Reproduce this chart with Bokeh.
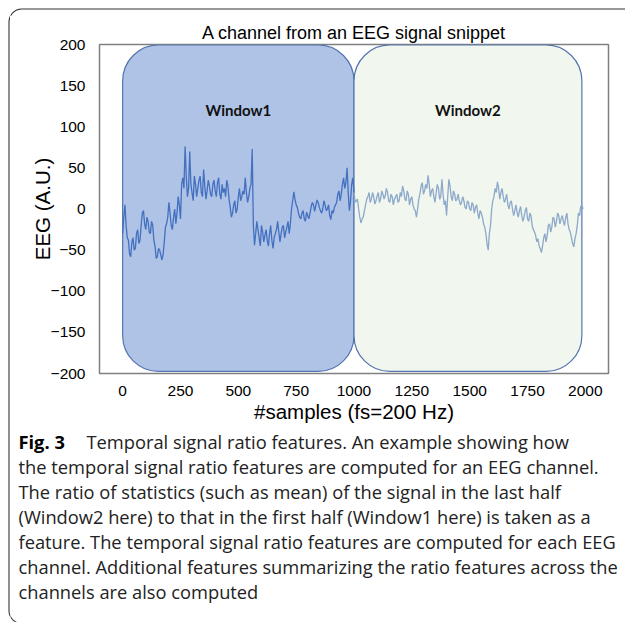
import numpy as np
from bokeh.plotting import figure
from bokeh.layouts import column, row
from bokeh.models import Range1d, FixedTicker
from bokeh.core.properties import value
from bokeh.embed import file_html
from bokeh.resources import INLINE

# ---- data ----
# values at every 10th sample (0..1990)
eeg_main = [
    -30, 5, -35, -55, -40, -50, -30, -42, -20, -2, -25,
    -15, -30, -20, -45, -58, -50, -62, -40, -18, 8,
    -20, -10, -18, 15, -12, 38, 76, 15, 70, 20,
    40, 15, 35, 20, 48, 12, 35, 18, 30, 22,
    32, 18, 30, 25, 35, 12, -10, 5, -5, 15,
    10, 22, 38, 8, 25, 73, -44, -15, -35, -20,
    -40, -25, -45, -20, -48, -30, -15, -40, -22, -35,
    -22, -30, 0, 21, 5, -5, -12, -2, -15, -8,
    -5, 8, -3, 11, 2, -5, 10, -2, 5, -13,
    -5, 5, 18, 10, 30, 25, 50, -2, 30, 20,
    10, 0, -17, -10, 5, 15, 8, 20, 6, 16,
    8, 22, 12, 25, 10, 18, 5, 15, 8, 20,
    28, 12, 22, 5, 15, 0, -10, 12, 28, 18,
    30, 41, 15, 25, 8, 30, 12, 36, 5, -8,
    36, 15, 22, 10, 18, 5, 15, 2, 10, 0,
    8, -5, 5, -12, -5, -18, -30, -50, -20, 10,
    25, 33, 12, 25, 8, 18, 0, 10, -8, 5,
    -10, 3, -15, -2, -12, -5, -20, -28, -40, -45,
    -53, -35, -40, -20, -28, -10, -22, -5, -18, -8,
    -20, -5, -25, -35, -46, -30, -5, 3, 0,
]
# values at the samples in between (5, 15, ..., 1985)
eeg_between = [
    -10, -20, -38, -58, -35, -48, -25, -38, -5, -18,
    -10, -28, -15, -38, -60, -48, -56, -55, -22, -10,
    -5, -25, 0, -5, 5, 30, 25, 40, 25, 30,
    10, 30, 25, 40, 15, 28, 22, 28, 15, 35,
    15, 38, 12, 20, 15, 28, 2, -5, 10, 0,
    25, 15, 18, 20, 15, 30, -20, -30, -25, -45,
    -28, -32, -38, -30, -38, -35, -25, -28, -30, -20,
    -28, -15, -18, 10, 12, 2, -10, -5, -12, -4,
    -12, 3, 5, 4, 8, -2, 0, 5, 0, -8,
    -2, 2, 8, 22, 18, 38, 32, 20, 10, 38,
    8, 12, -10, -12, -2, 12, 20, 12, 15, 10,
    20, 12, 18, 16, 20, 8, 15, 12, 18, 10,
    15, 22, 10, 18, 12, 5, -2, 0, 18, 32,
    22, 25, 30, 22, 15, 20, 25, 15, 18, 10,
    15, 28, 10, 18, 12, 10, 8, 10, 0, 8,
    -2, 5, 2, -5, -2, -10, -22, -42, -30, 0,
    15, 20, 25, 20, 15, 12, 5, 8, 0, -2,
    -4, -2, -8, -10, 2, -15, -8, -25, -32, -36,
    -48, -45, -30, -32, -18, -22, -12, -15, -8, -12,
    -15, -10, -18, -28, -42, -36, -20, -8, 5,
]
window_names = ["Window1", "Window2"]
window_start = [0, 1000]
window_end = [1000, 1985]
window_fill = ["#AEC3E6", "#F1F6EF"]
x_ticks = [0, 250, 500, 750, 1000, 1250, 1500, 1750, 2000]
y_ticks = [-200, -150, -100, -50, 0, 50, 100, 150, 200]
title_text = "A channel from an EEG signal snippet"
caption_bold = "Fig. 3"
caption_lines = [
    "Temporal signal ratio features. An example showing how",
    "the temporal signal ratio features are computed for an EEG channel.",
    "The ratio of statistics (such as mean) of the signal in the last half",
    "(Window2 here) to that in the first half (Window1 here) is taken as a",
    "feature. The temporal signal ratio features are computed for each EEG",
    "channel. Additional features summarizing the ratio features across the",
    "channels are also computed",
]

samples, eeg = [], []
for i, v in enumerate(eeg_main):
    samples.append(10 * i); eeg.append(v)
    if i < len(eeg_between):
        samples.append(10 * i + 5); eeg.append(eeg_between[i])

W, H = 625, 622
LS = 10                   # left strip width
HEAD = 16                 # top strip height (panel border only)
CAP_TOP = 430             # caption starts here (canvas px)
F_L, F_T, F_R, F_B = 99, 44, 608, 373   # chart frame in canvas px


def no_align(f):
    try:
        f.frame_align = False
    except Exception:
        pass


# ---------- chart ----------
p = figure(width=W - LS, height=CAP_TOP - HEAD, output_backend="svg",
           toolbar_location=None,
           x_range=Range1d(-100, 2100), y_range=Range1d(-200, 200),
           min_border_left=F_L - LS, min_border_right=W - F_R,
           min_border_top=F_T - HEAD, min_border_bottom=CAP_TOP - F_B)
no_align(p)
p.grid.visible = False
p.outline_line_color = "#808080"
p.outline_line_width = 1.5
p.background_fill_color = "white"
p.border_fill_color = "white"

p.quad(left=window_start, right=window_end, bottom=[-197.5, -197.5], top=[199.5, 199.5],
       fill_color=window_fill, line_color="#5575B0", line_width=1.2, border_radius=36)

split = samples.index(1000)
p.line(samples[:split + 1], eeg[:split + 1], line_color="#4470BF", line_width=1.3)
p.line(samples[split:], eeg[split:], line_color="#8DA9CA", line_width=1.3)

p.text(x=[(a + b) / 2 for a, b in zip(window_start, window_end)], y=[120, 120],
       text=window_names, text_font=value("Lato"), text_font_style="bold",
       text_font_size="15px", text_align="center", text_baseline="middle",
       text_color="#111111")

p.xaxis.ticker = FixedTicker(ticks=x_ticks)
p.yaxis.ticker = FixedTicker(ticks=y_ticks)
p.yaxis.major_label_overrides = {v: str(v).replace("-", "\u2212") for v in y_ticks}
for ax in (p.xaxis[0], p.yaxis[0]):
    ax.axis_line_color = None
    ax.major_tick_line_color = None
    ax.minor_tick_line_color = None
    ax.major_label_text_font = "Liberation Sans"
    ax.major_label_text_font_size = "15.5px"
    ax.major_label_text_color = "black"
    ax.axis_label_text_font = "Liberation Sans"
    ax.axis_label_text_font_size = "20.5px"
    ax.axis_label_text_font_style = "normal"
    ax.axis_label_text_color = "black"
p.xaxis.axis_label = "#samples (fs=200 Hz)"
p.yaxis.axis_label = "EEG (A.U.)"
p.yaxis.major_label_standoff = 8
p.xaxis.major_label_standoff = 6
p.yaxis.axis_label_standoff = -6
p.xaxis.axis_label_standoff = 1

p.title.text = title_text
p.title.align = "center"
p.title.text_font = "Liberation Sans"
p.title.text_font_size = "18px"
p.title.text_font_style = "normal"
p.title.text_color = "black"
p.title.standoff = 3


# ---------- decoration / caption panels (ranges in canvas pixels) ----------
def panel(x0, x1, y0, y1):
    f = figure(width=x1 - x0, height=y1 - y0, output_backend="svg",
               toolbar_location=None, title=None,
               x_range=Range1d(x0, x1), y_range=Range1d(y1, y0),
               x_axis_type=None, y_axis_type=None,
               min_border=0, min_border_left=0, min_border_right=0,
               min_border_top=0, min_border_bottom=0)
    no_align(f)
    f.grid.visible = False
    f.outline_line_color = None
    f.background_fill_color = "white"
    f.border_fill_color = "white"
    # outer panel border: rounded top-left and bottom-left corners
    r, e = 13, 8.5
    t1 = np.linspace(np.pi, 1.5 * np.pi, 20)
    t2 = np.linspace(0.5 * np.pi, np.pi, 20)[::-1]
    bx = [e + r + 700, e + r] + list(e + r + r * np.cos(t1))[::-1] + \
         list(e + r + r * np.cos(t2)) + [e + r, e + r + 700]
    by = [e, e] + list(e + r + r * np.sin(t1))[::-1] + \
         list(H + 1 - r + r * np.sin(t2)) + [H + 1, H + 1]
    f.line(bx, by, line_color="#333333", line_width=1.1)
    return f


left_strip = panel(0, LS, 0, H)
head = panel(LS, W, 0, HEAD)
cap = panel(LS, W, CAP_TOP, H)

y0 = 441
cap.text(x=[18], y=[y0], text=[caption_bold], text_font=value("Open Sans"),
         text_font_style="bold", text_font_size="18.3px", text_baseline="middle",
         text_color="black")
cap.text(x=[86] + [18] * (len(caption_lines) - 1),
         y=[y0 + 25 * i for i in range(len(caption_lines))],
         text=caption_lines, text_font=value("Open Sans"), text_font_size="18.3px",
         text_baseline="middle", text_color="#222222")

layout = row(left_strip, column(head, p, cap, spacing=0), spacing=0)
open("out.html", "w").write(file_html(layout, INLINE))
